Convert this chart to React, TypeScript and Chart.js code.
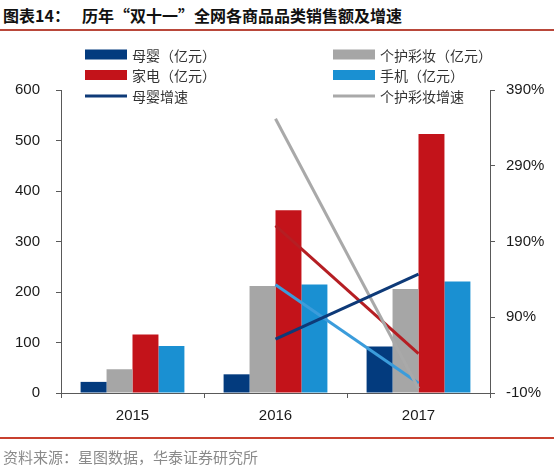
import React, { useEffect, useRef } from "react";
import { Chart, registerables } from "chart.js";

Chart.register(...registerables);

const categories = ["2015", "2016", "2017"];

const barLabels = ["母婴（亿元）", "个护彩妆（亿元）", "家电（亿元）", "手机（亿元）"];
const muying = [22, 37, 92];
const gehu = [47, 212, 206];
const jiadian = [116, 362, 513];
const shouji = [93, 215, 221];

const lineLabels = ["母婴增速", "个护彩妆增速", "家电增速", "手机增速"];
const muyingGrowth = [null, 61, 147];
const gehuGrowth = [null, 352, -4];
const jiadianGrowth = [null, 211, 42];
const shoujiGrowth = [null, 133, 3];

const leftTicks = { min: 0, max: 600, step: 100 };
const rightTicks = { min: -10, max: 390, step: 100 };

const titleLead = "图表14：";
const titleText = "历年“双十一”全网各商品品类销售额及增速";
const sourceText = "资料来源：星图数据，华泰证券研究所";

const barColors = ["#033B7E", "#A6A6A6", "#C3131A", "#1A90D2"];
const lineColors = ["#0E3A78", "#A9A9A9", "#B51E23", "#3B9CDB"];

const CJK = '"Noto Sans CJK SC", "Noto Sans", sans-serif';
const NUM = '"Liberation Sans", Arial, sans-serif';

const legendPlugin = {
  id: "gridLegend",
  afterDraw(chart: any) {
    const ctx = chart.ctx;
    const cols = [85, 333];
    const rows = [54.5, 75, 96];
    const n = 6;
    ctx.save();
    ctx.font = `14px ${CJK}`;
    ctx.textBaseline = "middle";
    ctx.textAlign = "left";
    for (let i = 0; i < n; i++) {
      const ds = chart.data.datasets[i];
      const x = cols[i % 2];
      const y = rows[Math.floor(i / 2)];
      if (ds.type === "line") {
        ctx.fillStyle = ds.borderColor;
        ctx.fillRect(x, y - 1.5, 42, 3);
      } else {
        ctx.fillStyle = ds.backgroundColor;
        ctx.fillRect(x, y - 5, 42, 10);
      }
      ctx.fillStyle = "#333333";
      ctx.fillText(ds.label, x + 47, y + 1);
    }
    ctx.restore();
  },
};

export default function App() {
  const ref = useRef<HTMLCanvasElement | null>(null);

  useEffect(() => {
    if (!ref.current) return;
    const barData = [muying, gehu, jiadian, shouji];
    const lineData = [muyingGrowth, gehuGrowth, jiadianGrowth, shoujiGrowth];
    const datasets: any[] = [];
    barData.forEach((d, i) =>
      datasets.push({
        type: "bar",
        label: barLabels[i],
        data: d,
        backgroundColor: barColors[i],
        borderWidth: 0,
        yAxisID: "y",
        order: 2,
        barPercentage: 1,
        categoryPercentage: 0.726,
      })
    );
    lineData.forEach((d, i) =>
      datasets.push({
        type: "line",
        label: lineLabels[i],
        data: d,
        borderColor: lineColors[i],
        backgroundColor: lineColors[i],
        borderWidth: 3,
        pointRadius: 0,
        yAxisID: "y1",
        order: 1,
        fill: false,
      })
    );

    const axisColor = "#595959";
    const chart = new Chart(ref.current, {
      type: "bar",
      data: { labels: categories, datasets },
      options: {
        responsive: false,
        animation: false,
        layout: { padding: { top: 90, bottom: 44, left: 0, right: 0 } },
        plugins: {
          legend: { display: false },
          tooltip: { enabled: false },
          title: { display: false },
        },
        scales: {
          x: {
            offset: true,
            grid: {
              display: true,
              drawOnChartArea: false,
              drawTicks: true,
              tickLength: 5,
              color: axisColor,
              offset: true,
            },
            border: { display: true, color: axisColor, width: 1 },
            ticks: { font: { family: NUM, size: 15 }, color: "#1a1a1a", padding: 9 },
            afterFit: (s: any) => {
              s.height = 30;
            },
          },
          y: {
            position: "left",
            min: leftTicks.min,
            max: leftTicks.max,
            ticks: {
              stepSize: leftTicks.step,
              font: { family: NUM, size: 15 },
              color: "#1a1a1a",
              padding: 16,
            },
            grid: {
              display: true,
              drawOnChartArea: false,
              drawTicks: true,
              tickLength: 5,
              color: axisColor,
            },
            border: { display: true, color: axisColor, width: 1 },
            afterFit: (s: any) => {
              s.width = 61;
            },
          },
          y1: {
            position: "right",
            min: rightTicks.min,
            max: rightTicks.max,
            ticks: {
              stepSize: rightTicks.step,
              font: { family: NUM, size: 15 },
              color: "#1a1a1a",
              padding: 11,
              callback: (v: any) => `${v}%`,
            },
            grid: {
              display: true,
              drawOnChartArea: false,
              drawTicks: true,
              tickLength: 5,
              color: axisColor,
            },
            border: { display: true, color: axisColor, width: 1 },
            afterFit: (s: any) => {
              s.width = 64;
            },
          },
        },
      } as any,
      plugins: [legendPlugin],
    });
    return () => chart.destroy();
  }, []);

  return (
    <div
      style={{
        position: "absolute",
        left: 0,
        top: 0,
        width: 554,
        height: 467,
        background: "#ffffff",
        overflow: "hidden",
      }}
    >
      <div
        style={{
          position: "absolute",
          left: 3,
          top: 5,
          lineHeight: "20px",
          fontFamily: CJK,
          fontWeight: 700,
          fontSize: 16,
          color: "#111",
          whiteSpace: "nowrap",
        }}
      >
        {titleLead}
      </div>
      <div
        style={{
          position: "absolute",
          left: 82,
          top: 5,
          lineHeight: "20px",
          fontFamily: CJK,
          fontWeight: 700,
          fontSize: 16,
          color: "#111",
          whiteSpace: "nowrap",
        }}
      >
        {titleText}
      </div>
      <div
        style={{
          position: "absolute",
          left: 0,
          top: 28.5,
          width: 554,
          height: 2,
          background: "#B9473A",
        }}
      />
      <canvas
        ref={ref}
        width={554}
        height={467}
        style={{ position: "absolute", left: 0, top: 0, width: 554, height: 467 }}
      />
      <div
        style={{
          position: "absolute",
          left: 0,
          top: 436.5,
          width: 554,
          height: 2,
          background: "#C8402F",
        }}
      />
      <div
        style={{
          position: "absolute",
          left: 3,
          top: 447,
          lineHeight: "20px",
          fontFamily: CJK,
          fontSize: 15,
          color: "#8a8a8a",
          whiteSpace: "nowrap",
        }}
      >
        {sourceText}
      </div>
    </div>
  );
}
